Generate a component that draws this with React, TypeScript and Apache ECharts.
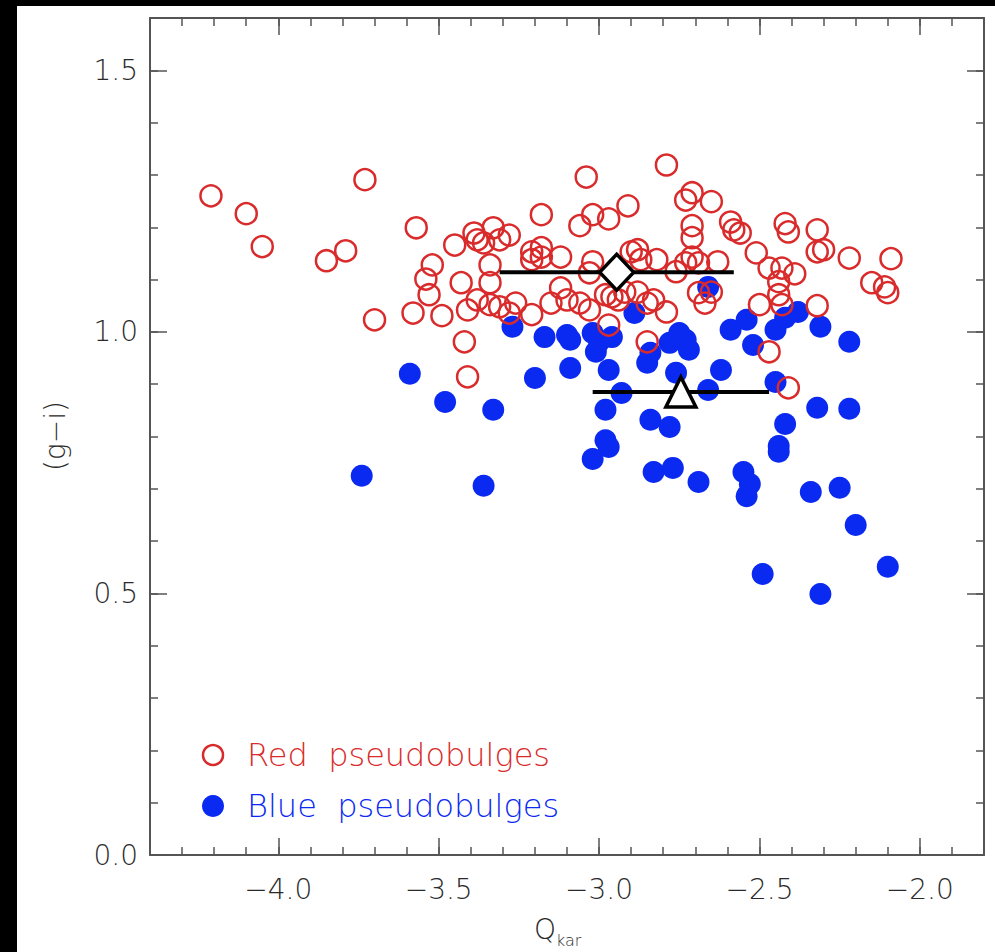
import React, { useEffect, useRef } from "react";
import * as echarts from "echarts";

// ---- data ----
const redPseudobulges: number[][] = [
  [-4.21, 1.26], [-4.1, 1.226], [-4.05, 1.163], [-3.73, 1.291], [-3.79, 1.155], [-3.85, 1.136],
  [-3.7, 1.023], [-3.57, 1.199], [-3.58, 1.036], [-3.52, 1.128], [-3.54, 1.101], [-3.53, 1.071],
  [-3.49, 1.031], [-3.45, 1.166], [-3.43, 1.094], [-3.42, 0.981], [-3.41, 0.914], [-3.41, 1.042],
  [-3.39, 1.189], [-3.38, 1.176], [-3.36, 1.17], [-3.33, 1.199], [-3.31, 1.176], [-3.28, 1.185],
  [-3.34, 1.128], [-3.34, 1.094], [-3.38, 1.061], [-3.34, 1.052], [-3.31, 1.048], [-3.28, 1.036],
  [-3.26, 1.055], [-3.21, 1.153], [-3.18, 1.161], [-3.18, 1.143], [-3.21, 1.138], [-3.12, 1.143],
  [-3.21, 1.033], [-3.15, 1.055], [-3.12, 1.084], [-3.1, 1.061], [-3.18, 1.224], [-3.04, 1.296],
  [-3.06, 1.203], [-3.02, 1.224], [-2.97, 1.216], [-2.91, 1.241], [-3.02, 1.134], [-3.03, 1.113],
  [-3.06, 1.055], [-3.03, 1.042], [-2.98, 1.071], [-2.96, 1.067], [-2.94, 1.061], [-2.92, 1.076],
  [-2.97, 1.013], [-2.9, 1.153], [-2.88, 1.157], [-2.87, 1.138], [-2.82, 1.138], [-2.88, 1.076],
  [-2.85, 1.055], [-2.83, 1.061], [-2.79, 1.038], [-2.85, 0.981], [-2.76, 1.115], [-2.79, 1.319],
  [-2.73, 1.252], [-2.71, 1.266], [-2.65, 1.249], [-2.71, 1.203], [-2.71, 1.18], [-2.73, 1.132],
  [-2.71, 1.143], [-2.69, 1.132], [-2.69, 1.075], [-2.67, 1.055], [-2.65, 1.076], [-2.63, 1.134],
  [-2.59, 1.21], [-2.58, 1.195], [-2.56, 1.189], [-2.51, 1.151], [-2.47, 1.122], [-2.5, 1.052],
  [-2.47, 0.962], [-2.43, 1.122], [-2.44, 1.096], [-2.44, 1.071], [-2.43, 1.052], [-2.42, 1.207],
  [-2.41, 1.191], [-2.39, 1.111], [-2.41, 0.893], [-2.32, 1.195], [-2.32, 1.153], [-2.3, 1.157],
  [-2.32, 1.05], [-2.22, 1.141], [-2.15, 1.094], [-2.11, 1.086], [-2.1, 1.075], [-2.09, 1.14],
];

const bluePseudobulges: number[][] = [
  [-3.74, 0.725], [-3.59, 0.92], [-3.48, 0.866], [-3.36, 0.706], [-3.33, 0.851], [-3.27, 1.01],
  [-3.17, 0.99], [-3.2, 0.912], [-3.1, 0.994], [-3.09, 0.985], [-3.09, 0.931], [-3.02, 0.998],
  [-3.0, 0.981], [-3.01, 0.962], [-2.96, 0.99], [-2.98, 0.851], [-2.98, 0.793], [-2.97, 0.78],
  [-3.02, 0.757], [-2.97, 0.927], [-2.93, 0.883], [-2.89, 1.036], [-2.85, 0.941], [-2.84, 0.96],
  [-2.84, 0.832], [-2.83, 0.732], [-2.77, 0.74], [-2.78, 0.818], [-2.78, 0.979], [-2.75, 0.998],
  [-2.73, 0.985], [-2.72, 0.966], [-2.76, 0.922], [-2.69, 0.713], [-2.66, 0.889], [-2.66, 1.086],
  [-2.62, 0.927], [-2.59, 1.004], [-2.54, 1.023], [-2.52, 0.975], [-2.55, 0.732], [-2.54, 0.686],
  [-2.53, 0.709], [-2.49, 0.537], [-2.45, 0.904], [-2.45, 1.004], [-2.44, 0.782], [-2.44, 0.771],
  [-2.42, 0.824], [-2.42, 1.027], [-2.38, 1.038], [-2.34, 0.694], [-2.32, 0.855], [-2.31, 1.01],
  [-2.31, 0.499], [-2.25, 0.702], [-2.22, 0.981], [-2.22, 0.853], [-2.2, 0.631], [-2.1, 0.551],
];

// mean of red sample with its horizontal spread, and of blue sample
const redMean = [-2.945, 1.114];
const redMeanRange = [-3.31, -2.58];
const blueMean = [-2.745, 0.885];
const blueMeanRange = [-3.02, -2.47];

const xMajorTicks = [-4.0, -3.5, -3.0, -2.5, -2.0];
const yMajorTicks = [0.0, 0.5, 1.0, 1.5];
const xRange = [-4.4, -1.8];
const yRange = [0, 1.6];

const legendLabels = ["Red  pseudobulges", "Blue  pseudobulges"];

const RED = "#d92b2b";
const BLUE = "#0a2af2";
const AXIS = "#555555";
const FONT = "DejaVu Sans";

function isMajor(v: number) {
  const r = Math.round(v * 10) / 10;
  return Math.abs(r * 2 - Math.round(r * 2)) < 1e-6;
}
function fmt(v: number) {
  const r = Math.round(v * 10) / 10;
  if (!isMajor(r)) return "";
  return r.toFixed(1).replace("-", "\u2212");
}

export default function App() {
  const ref = useRef<HTMLDivElement>(null);
  useEffect(() => {
    document.body.style.margin = "0";
    const chart = echarts.init(ref.current!, undefined, { renderer: "svg" });

    const minorX = (position: string, labels: boolean) => ({
      type: "value",
      position,
      min: xRange[0],
      max: xRange[1],
      interval: 0.1,
      axisLine: { show: true, onZero: false, lineStyle: { color: AXIS, width: 2 } },
      axisTick: { show: true, inside: true, length: 8, lineStyle: { color: AXIS, width: 1.5 } },
      axisLabel: {
        show: labels,
        formatter: fmt,
        margin: 20,
        fontSize: 28,
        fontFamily: FONT,
        fontWeight: 200,
        color: "#2a2a2a",
        showMinLabel: true,
        showMaxLabel: true,
      },
      splitLine: { show: false },
    });
    const majorX = (position: string) => ({
      type: "value",
      position,
      min: xRange[0],
      max: xRange[1],
      axisLine: { show: false, onZero: false },
      axisTick: {
        show: true,
        inside: true,
        length: 17,
        customValues: xMajorTicks,
        lineStyle: { color: AXIS, width: 1.5 },
      },
      axisLabel: { show: false, customValues: xMajorTicks },
      splitLine: { show: false },
    });
    const minorY = (position: string, labels: boolean) => ({
      type: "value",
      position,
      min: yRange[0],
      max: yRange[1],
      interval: 0.1,
      axisLine: { show: true, onZero: false, lineStyle: { color: AXIS, width: 2 } },
      axisTick: { show: true, inside: true, length: 8, lineStyle: { color: AXIS, width: 1.5 } },
      axisLabel: {
        show: labels,
        formatter: fmt,
        margin: 12,
        fontSize: 28,
        fontFamily: FONT,
        fontWeight: 200,
        color: "#2a2a2a",
      },
      splitLine: { show: false },
    });
    const majorY = (position: string) => ({
      type: "value",
      position,
      min: yRange[0],
      max: yRange[1],
      axisLine: { show: false, onZero: false },
      axisTick: {
        show: true,
        inside: true,
        length: 17,
        customValues: yMajorTicks,
        lineStyle: { color: AXIS, width: 1.5 },
      },
      axisLabel: { show: false, customValues: yMajorTicks },
      splitLine: { show: false },
    });

    const option: any = {
      animation: false,
      backgroundColor: "#ffffff",
      grid: { left: 150, right: 11, top: 18, bottom: 97, containLabel: false },
      xAxis: [minorX("bottom", true), majorX("bottom"), minorX("top", false), majorX("top")],
      yAxis: [minorY("left", true), majorY("left"), minorY("right", false), majorY("right")],
      series: [
        {
          name: "Blue pseudobulges",
          type: "scatter",
          data: bluePseudobulges,
          symbol: "circle",
          symbolSize: 22,
          itemStyle: { color: BLUE, opacity: 1 },
          z: 2,
        },
        {
          name: "Red pseudobulges",
          type: "scatter",
          data: redPseudobulges,
          symbol: "circle",
          symbolSize: 21,
          itemStyle: { color: "rgba(255,255,255,0)", borderColor: RED, borderWidth: 2.5, opacity: 1 },
          z: 3,
        },
        {
          type: "line",
          data: [[redMeanRange[0], redMean[1]], [redMeanRange[1], redMean[1]]],
          symbol: "none",
          lineStyle: { color: "#000", width: 4 },
          z: 4,
        },
        {
          type: "line",
          data: [[blueMeanRange[0], blueMean[1]], [blueMeanRange[1], blueMean[1]]],
          symbol: "none",
          lineStyle: { color: "#000", width: 4 },
          z: 4,
        },
        {
          type: "scatter",
          data: [redMean],
          symbol: "diamond",
          symbolSize: [34, 36],
          itemStyle: { color: "#fff", borderColor: "#000", borderWidth: 3.5, opacity: 1 },
          z: 5,
        },
        {
          type: "scatter",
          data: [blueMean],
          symbol: "triangle",
          symbolSize: [30, 30],
          itemStyle: { color: "#fff", borderColor: "#000", borderWidth: 3.5, opacity: 1 },
          z: 5,
        },
      ],
      graphic: [
        { type: "rect", shape: { x: 0, y: 0, width: 995, height: 6 }, style: { fill: "#000" }, z: 100 },
        { type: "rect", shape: { x: 0, y: 0, width: 17, height: 952 }, style: { fill: "#000" }, z: 100 },
        {
          type: "text",
          x: 55,
          y: 436,
          rotation: Math.PI / 2,
          style: {
            text: "(g\u2212i)",
            fontSize: 28,
            fontFamily: FONT,
            fontWeight: 200,
            fill: "#2a2a2a",
            align: "center",
            verticalAlign: "middle",
          },
        },
        {
          type: "text",
          x: 545,
          y: 929,
          style: {
            text: "Q",
            fontSize: 28,
            fontFamily: FONT,
            fontWeight: 200,
            fill: "#2a2a2a",
            align: "center",
            verticalAlign: "middle",
          },
        },
        {
          type: "text",
          x: 556,
          y: 940,
          style: {
            text: "kar",
            fontSize: 16,
            fontFamily: FONT,
            fontWeight: 200,
            fill: "#2a2a2a",
            align: "left",
            verticalAlign: "middle",
          },
        },
        {
          type: "circle",
          shape: { cx: 213, cy: 755, r: 10 },
          style: { fill: "none", stroke: RED, lineWidth: 2.5 },
        },
        {
          type: "text",
          x: 247,
          y: 755,
          style: {
            text: legendLabels[0],
            fontSize: 32,
            fontFamily: FONT,
            fontWeight: 200,
            fill: RED,
            align: "left",
            verticalAlign: "middle",
          },
        },
        {
          type: "circle",
          shape: { cx: 213, cy: 806, r: 11 },
          style: { fill: BLUE },
        },
        {
          type: "text",
          x: 247,
          y: 806,
          style: {
            text: legendLabels[1],
            fontSize: 32,
            fontFamily: FONT,
            fontWeight: 200,
            fill: BLUE,
            align: "left",
            verticalAlign: "middle",
          },
        },
      ],
    };
    chart.setOption(option);
    return () => chart.dispose();
  }, []);
  return <div ref={ref} style={{ width: 995, height: 952 }} />;
}
